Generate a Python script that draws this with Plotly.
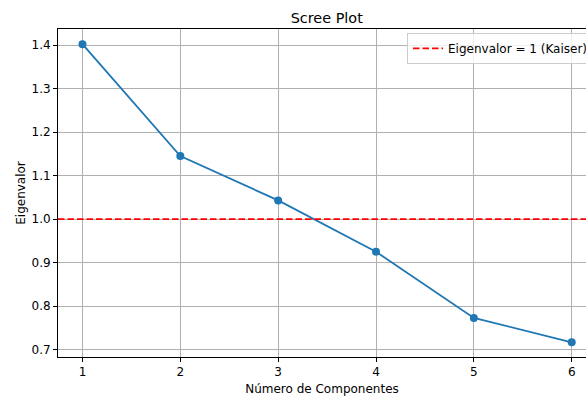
import plotly.graph_objects as go

# Eigenvalues of each principal component
componentes = [1, 2, 3, 4, 5, 6]
eigenvalores = [1.402, 1.145, 1.043, 0.925, 0.773, 0.717]

# Kaiser criterion threshold
kaiser = 1.0
kaiser_label = "Eigenvalor = 1 (Kaiser)"

y_ticks = [0.7, 0.8, 0.9, 1.0, 1.1, 1.2, 1.3, 1.4]
x_range = [0.75, 6.146]
y_range = [0.6832, 1.4368]

FONT = "DejaVu Sans"

fig = go.Figure()

fig.add_trace(go.Scatter(
    x=componentes,
    y=eigenvalores,
    mode="lines+markers",
    line=dict(color="#1f77b4", width=1.8),
    marker=dict(color="#1f77b4", size=8),
    showlegend=False,
    hoverinfo="x+y",
))

# Horizontal reference line at eigenvalue = 1
fig.add_shape(
    type="line",
    xref="x domain", x0=0, x1=1,
    yref="y", y0=kaiser, y1=kaiser,
    line=dict(color="red", width=1.8, dash="6.5px,3px"),
    showlegend=True,
    name=kaiser_label,
)

fig.update_layout(
    width=586,
    height=398,
    margin=dict(l=58, r=0, t=29, b=41, autoexpand=False),
    paper_bgcolor="white",
    plot_bgcolor="white",
    font=dict(family=FONT, size=12, color="black"),
    title=dict(
        text="Scree Plot",
        font=dict(family=FONT, size=14.4, color="black"),
        x=0.509, xref="paper", xanchor="center",
        y=1 - 17.5 / 398, yref="container", yanchor="middle",
    ),
    legend=dict(
        x=0.661, xanchor="left",
        y=0.988, yanchor="top",
        bgcolor="rgba(255,255,255,0.8)",
        bordercolor="#cccccc",
        borderwidth=1,
        font=dict(family=FONT, size=12, color="black"),
    ),
    xaxis=dict(
        range=x_range,
        tickmode="array",
        tickvals=componentes,
        ticktext=[str(c) for c in componentes],
        ticks="outside", ticklen=4, tickwidth=1, tickcolor="black",
        showline=True, linecolor="black", linewidth=1, mirror=True,
        showgrid=True, gridcolor="#b0b0b0", gridwidth=1,
        zeroline=False,
        title=dict(text="Número de Componentes", standoff=6,
                   font=dict(family=FONT, size=12, color="black")),
    ),
    yaxis=dict(
        range=y_range,
        tickmode="array",
        tickvals=y_ticks,
        ticktext=[f"{v:.1f}" for v in y_ticks],
        ticks="outside", ticklen=4, tickwidth=1, tickcolor="black",
        showline=True, linecolor="black", linewidth=1, mirror=False,
        showgrid=True, gridcolor="#b0b0b0", gridwidth=1,
        zeroline=False,
        title=dict(text="Eigenvalor", standoff=3,
                   font=dict(family=FONT, size=12, color="black")),
    ),
)

fig.write_html("out.html")
